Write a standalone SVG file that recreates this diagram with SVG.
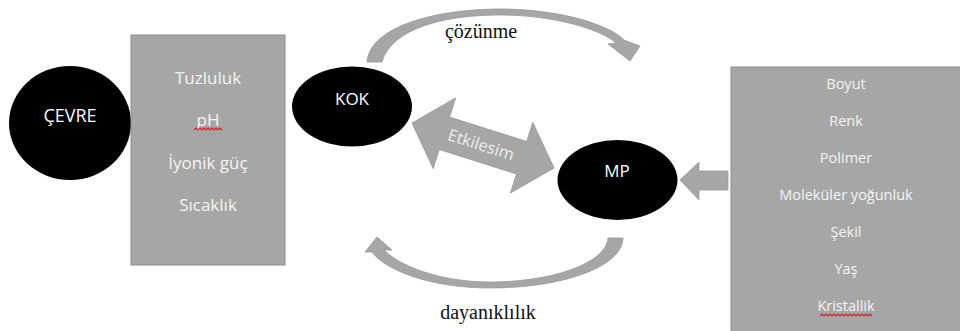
<svg xmlns="http://www.w3.org/2000/svg" width="960" height="331" viewBox="0 0 960 331">
  <style>
    .node { fill: #000000; }
    .box { fill: #a6a6a6; stroke: #8c8c8c; stroke-width: 1; }
    .lbl { font-family: "Open Sans", "Liberation Sans", sans-serif; fill: #ffffff; text-anchor: middle; }
    .boxtxt { font-family: "Open Sans", "Liberation Sans", sans-serif; fill: #f4f4f4; text-anchor: middle; }
    .serif { font-family: "Liberation Serif", "Times New Roman", serif; fill: #111111; text-anchor: middle; font-size: 20px; }
    .conn { fill: #a6a6a6; stroke: #999999; stroke-width: 0.8; }
    .wave { fill: none; stroke: #d42020; stroke-width: 1.2; }
  </style>
  <rect width="960" height="331" fill="#ffffff"/>

  <g id="cevre">
    <ellipse class="node" cx="70" cy="123" rx="61" ry="57"/>
    <text class="lbl" x="70" y="122" font-size="18">ÇEVRE</text>
  </g>

  <g id="cevre-factors">
    <rect class="box" x="131" y="35" width="154" height="230"/>
    <text class="boxtxt" x="208" y="84" font-size="17">Tuzluluk</text>
    <text class="boxtxt" x="208" y="126" font-size="17">pH</text>
    <path class="wave" d="M194,130 l2,-2 l2,2 l2,-2 l2,2 l2,-2 l2,2 l2,-2 l2,2 l2,-2 l2,2 l2,-2 l2,2 l2,-2 l2,2"/>
    <text class="boxtxt" x="208" y="169" font-size="17">İyonik güç</text>
    <text class="boxtxt" x="208" y="211" font-size="17">Sıcaklık</text>
  </g>

  <g id="kok">
    <ellipse class="node" cx="352" cy="106.5" rx="60" ry="40"/>
    <text class="lbl" x="352" y="105" font-size="17">KOK</text>
  </g>

  <g id="mp">
    <ellipse class="node" cx="617.5" cy="180" rx="60" ry="40"/>
    <text class="lbl" x="617" y="177" font-size="17">MP</text>
  </g>

  <g id="mp-factors">
    <rect class="box" x="731" y="67" width="235" height="270"/>
    <text class="boxtxt" x="846" y="89" font-size="14.5">Boyut</text>
    <text class="boxtxt" x="846" y="126" font-size="14.5">Renk</text>
    <text class="boxtxt" x="846" y="163" font-size="14.5">Polimer</text>
    <text class="boxtxt" x="846" y="200" font-size="14.5">Moleküler yoğunluk</text>
    <text class="boxtxt" x="846" y="237" font-size="14.5">Şekil</text>
    <text class="boxtxt" x="846" y="274" font-size="14.5">Yaş</text>
    <text class="boxtxt" x="846" y="311" font-size="14.5">Kristallik</text>
    <path class="wave" d="M820,316 l2,-2 l2,2 l2,-2 l2,2 l2,-2 l2,2 l2,-2 l2,2 l2,-2 l2,2 l2,-2 l2,2 l2,-2 l2,2 l2,-2 l2,2 l2,-2 l2,2 l2,-2 l2,2 l2,-2 l2,2 l2,-2 l2,2 l2,-2 l2,2"/>
  </g>

  <g id="connectors">
    <!-- çözünme curved arrow -->
    <path class="conn" d="M367,62 C370,25 440,9 500,9 C560,9 610,25 624,40 L640,46 L630,61 L608,44 L616,43 C602,30 555,15 500,15 C445,15 392,28 382,62 Z"/>
    <text class="serif" x="481" y="38">çözünme</text>

    <!-- dayanıklılık curved arrow -->
    <path class="conn" d="M608,238 L623,238 C622,268 560,288 490,288 C430,288 385,270 372,252 L365,252 L377,237 L392,250 L384,250 C400,266 440,282 490,282 C550,282 606,264 608,238 Z"/>
    <text class="serif" x="488" y="319">dayanıklılık</text>

    <!-- Etkilesim double arrow -->
    <g transform="translate(483,145.5) rotate(17.6)">
      <polygon class="conn" points="-74.5,0 -40.5,-37 -40.5,-17 40.5,-17 40.5,-37 74.5,0 40.5,37 40.5,17 -40.5,17 -40.5,37"/>
      <text class="lbl" x="-2" y="5.5" font-size="16.5" style="fill:#eeeeee">Etkilesim</text>
    </g>

    <!-- arrow from MP factors to MP -->
    <polygon class="conn" points="680,180 699,162 699,171 728,171 728,190 699,190 699,200"/>
  </g>
</svg>
